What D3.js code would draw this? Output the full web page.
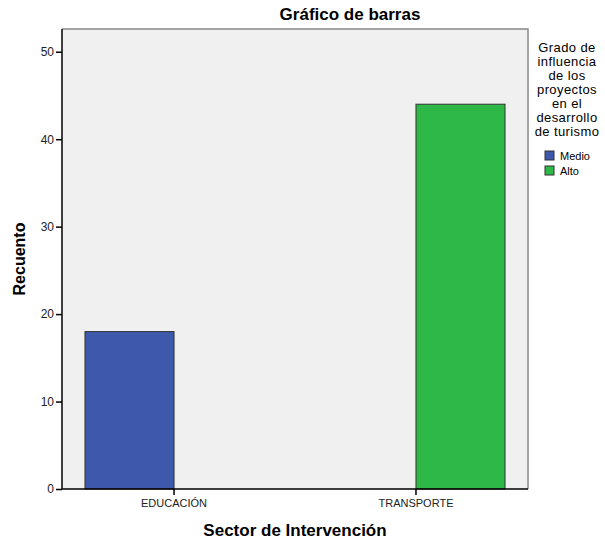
<!DOCTYPE html>
<html>
<head>
<meta charset="utf-8">
<script src="https://cdn.jsdelivr.net/npm/d3@7"></script>
<style>
  body { margin: 0; background: #fff; }
  text { font-family: "Liberation Sans", Arial, sans-serif; fill: #000; }
</style>
</head>
<body>
<div id="chart"></div>
<script>
var sectores = ["EDUCACIÓN", "TRANSPORTE"];
var grados = ["Medio", "Alto"];
var medio = [18, 0];
var alto = [0, 44];
var yTicks = [0, 10, 20, 30, 40, 50];
var colores = ["#3e58ac", "#2eb848"];
var tituloLeyenda = ["Grado de", "influencia", "de los", "proyectos", "en el", "desarrollo", "de turismo"];

var width = 605,
	height = 542,
	mLeft = 62,
	mRight = 528,
	mTop = 29,
	mBottom = 489;

var datos = sectores.map(function (s, i) {
	return { sector: s, valores: [medio[i], alto[i]] };
});

var svg = d3.select('#chart').append('svg')
	.attr('width', width)
	.attr('height', height);

var x = d3.scaleBand()
	.domain(sectores)
	.range([mLeft, mRight])
	.paddingInner(0.264)
	.paddingOuter(0.095);

var xSub = d3.scaleBand()
	.domain(grados)
	.range([0, x.bandwidth()]);

var y = d3.scaleLinear()
	.domain([0, 52.6])
	.range([mBottom, mTop]);

var color = d3.scaleOrdinal().domain(grados).range(colores);

// fondo y marco
svg.append('rect')
	.attr('x', mLeft).attr('y', mTop)
	.attr('width', mRight - mLeft).attr('height', mBottom - mTop)
	.style('fill', '#f0f0f0');
svg.append('path')
	.attr('d', 'M' + mLeft + ',' + mTop + 'H' + mRight + 'V' + mBottom)
	.style('fill', 'none')
	.style('stroke', '#888')
	.style('stroke-width', 1.5);

// barras
svg.selectAll('g.grupo').data(datos)
	.enter().append('g')
		.attr('class', 'grupo')
		.attr('transform', function (d) { return 'translate(' + x(d.sector) + ',0)'; })
	.selectAll('rect').data(function (d) {
			return grados.map(function (g, j) { return { grado: g, valor: d.valores[j] }; })
				.filter(function (v) { return v.valor > 0; });
		})
	.enter().append('rect')
		.attr('x', function (d) { return xSub(d.grado); })
		.attr('y', function (d) { return y(d.valor); })
		.attr('width', xSub.bandwidth())
		.attr('height', function (d) { return mBottom - y(d.valor); })
		.style('fill', function (d) { return color(d.grado); })
		.style('stroke', '#333')
		.style('stroke-width', 1);

// ejes
var shift = -x.bandwidth() / 2 + xSub.bandwidth();
var yAxis = svg.append('g')
	.attr('transform', 'translate(' + mLeft + ',0)')
	.call(d3.axisLeft(y).tickValues(yTicks).tickSize(6).tickPadding(2));
var xAxis = svg.append('g')
	.attr('transform', 'translate(0,' + mBottom + ')')
	.call(d3.axisBottom(x).tickSize(6).tickPadding(4));
xAxis.selectAll('.tick line').attr('transform', 'translate(' + shift + ',0)');
xAxis.selectAll('.tick text').attr('transform', 'translate(' + shift + ',0)');
yAxis.select('.domain').attr('d', 'M0,' + mTop + 'V' + mBottom);
xAxis.select('.domain').attr('d', 'M' + mLeft + ',0H' + mRight);
[yAxis, xAxis].forEach(function (a) {
	a.select('.domain').style('stroke', '#000').style('stroke-width', 1.5);
	a.selectAll('.tick line').style('stroke', '#000').style('stroke-width', 1.5);
	a.selectAll('.tick text').style('font-family', '"Liberation Sans", Arial, sans-serif').style('fill', '#222');
});
yAxis.selectAll('.tick text').style('font-size', '12px');
xAxis.selectAll('.tick text').style('font-size', '11px');

// títulos
svg.append('text')
	.attr('x', 350).attr('y', 20)
	.attr('text-anchor', 'middle')
	.style('font-size', '17px').style('font-weight', 'bold')
	.text('Gráfico de barras');
svg.append('text')
	.attr('x', 295).attr('y', 536)
	.attr('text-anchor', 'middle')
	.style('font-size', '17px').style('font-weight', 'bold')
	.text('Sector de Intervención');
svg.append('text')
	.attr('transform', 'translate(25,' + ((mTop + mBottom) / 2) + ') rotate(-90)')
	.attr('text-anchor', 'middle')
	.style('font-size', '16px').style('font-weight', 'bold')
	.text('Recuento');

// leyenda
svg.append('g').selectAll('text').data(tituloLeyenda)
	.enter().append('text')
		.attr('x', 567)
		.attr('y', function (d, i) { return 52 + i * 14; })
		.attr('text-anchor', 'middle')
		.style('font-size', '13px')
		.style('letter-spacing', '0.4px')
		.text(function (d) { return d; });

var leyenda = svg.append('g').selectAll('g').data(grados)
	.enter().append('g')
		.attr('transform', function (d, i) { return 'translate(545,' + (151 + i * 15) + ')'; });
leyenda.append('rect')
	.attr('width', 9).attr('height', 9)
	.style('fill', function (d) { return color(d); })
	.style('stroke', '#333');
leyenda.append('text')
	.attr('x', 15).attr('y', 8.5)
	.style('font-size', '11px')
	.text(function (d) { return d; });
</script>
</body>
</html>
